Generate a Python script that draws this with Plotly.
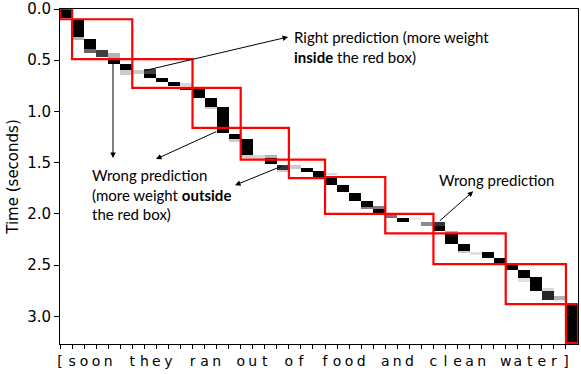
import numpy as np
import plotly.graph_objects as go

# ---- data ----
chars = list("[soon they ran out of food and clean water]")
t_max = 3.27
dt = 0.01

# attention cells: column index, start time, end time, weight
cell_col = [0, 1, 1, 2, 2, 3, 4, 4, 5, 5, 6, 7, 7, 8, 9, 10, 10, 11, 12, 12,
            13, 14, 14, 15, 15, 16, 17, 17, 18, 18, 19, 20, 21, 22, 22, 23, 24,
            25, 25, 26, 26, 27, 28, 29, 30, 31, 31, 32, 32, 33, 33, 34, 35, 36,
            37, 38, 38, 39, 40, 40, 41, 41, 42]
cell_t0 = [0.00, 0.11, 0.27, 0.29, 0.39, 0.40, 0.43, 0.49, 0.54, 0.60, 0.60, 0.59, 0.635, 0.67, 0.71, 0.72, 0.76, 0.78, 0.87, 0.96,
           0.96, 1.22, 1.27, 1.27, 1.43, 1.43, 1.43, 1.45, 1.52, 1.57, 1.52, 1.55, 1.58, 1.60, 1.65, 1.72, 1.80,
           1.87, 1.93, 1.92, 1.95, 1.99, 2.04, 2.03, 2.08, 2.08, 2.12, 2.17, 2.19, 2.29, 2.36, 2.37, 2.37, 2.43,
           2.49, 2.55, 2.63, 2.62, 2.72, 2.75, 2.80, 2.84, 2.88]
cell_t1 = [0.09, 0.27, 0.30, 0.39, 0.43, 0.47, 0.48, 0.54, 0.60, 0.64, 0.63, 0.635, 0.67, 0.71, 0.75, 0.75, 0.79, 0.87, 0.96, 0.98,
           1.21, 1.27, 1.30, 1.43, 1.45, 1.46, 1.45, 1.51, 1.57, 1.59, 1.56, 1.59, 1.64, 1.62, 1.72, 1.79, 1.87,
           1.93, 1.95, 1.95, 1.99, 2.04, 2.08, 2.06, 2.12, 2.12, 2.17, 2.19, 2.29, 2.36, 2.38, 2.40, 2.43, 2.49,
           2.55, 2.63, 2.66, 2.75, 2.75, 2.84, 2.84, 2.86, 3.26]
cell_w = [1.0, 1.0, 0.3, 1.0, 0.6, 0.75, 0.3, 1.0, 1.0, 0.2, 0.2, 0.75, 1.0, 1.0, 1.0, 0.15, 1.0, 1.0, 1.0, 0.2,
          1.0, 1.0, 0.2, 1.0, 0.2, 0.15, 0.3, 1.0, 0.8, 0.2, 0.2, 1.0, 1.0, 0.15, 1.0, 1.0, 1.0,
          1.0, 0.5, 0.5, 1.0, 0.55, 1.0, 0.08, 0.45, 0.8, 1.0, 0.3, 1.0, 1.0, 0.2, 0.12, 1.0, 1.0,
          1.0, 1.0, 0.12, 1.0, 0.15, 0.85, 0.3, 0.08, 1.0]

# word boxes: start column, end column, start time, end time
box_c0 = [0, 1, 6, 11, 15, 19, 22, 27, 31, 37, 42]
box_c1 = [1, 6, 11, 15, 19, 22, 27, 31, 37, 42, 43]
box_t0 = [0.00, 0.10, 0.49, 0.77, 1.16, 1.47, 1.64, 2.00, 2.19, 2.49, 2.88]
box_t1 = [0.10, 0.49, 0.77, 1.16, 1.47, 1.65, 2.00, 2.19, 2.49, 2.88, 3.26]

# ---- build matrix ----
n_t = int(round(t_max / dt))
t_centers = (np.arange(n_t) + 0.5) * dt
z = np.zeros((n_t, len(chars)))
for c, a, b, w in zip(cell_col, cell_t0, cell_t1, cell_w):
    mask = (t_centers >= a) & (t_centers < b)
    z[mask, c] = np.maximum(z[mask, c], w)
x_centers = np.arange(len(chars)) + 0.5

fig = go.Figure()
fig.add_trace(go.Heatmap(
    x=x_centers, y=t_centers, z=z, zmin=0, zmax=1,
    colorscale=[[0, "white"], [1, "black"]], showscale=False, hoverinfo="skip"))

for c0, c1, a, b in zip(box_c0, box_c1, box_t0, box_t1):
    fig.add_shape(type="rect", x0=c0, x1=c1, y0=a, y1=b, xref="x", yref="y",
                  line=dict(color="#ff0000", width=2.2), fillcolor="rgba(0,0,0,0)", layer="above")

# arrows: (head_x, head_y, tail_x, tail_y)
arrows = [
    (18.93, 0.273, 6.89, 0.605),
    (4.40, 1.455, 4.40, 0.52),
    (7.97, 1.465, 13.1, 1.19),
    (14.53, 1.72, 18.5, 1.53),
    (34.3, 1.78, 31.4, 2.08),
]
for hx, hy, tx, ty in arrows:
    fig.add_annotation(x=hx, y=hy, ax=tx, ay=ty, xref="x", yref="y", axref="x", ayref="y",
                       text="", showarrow=True, arrowhead=2, arrowsize=1.1, arrowwidth=1,
                       arrowcolor="black", standoff=0, startstandoff=0)

afont = dict(family="Lato, Open Sans, sans-serif", size=15, color="black")
fig.add_annotation(x=19.26, y=0.37, xref="x", yref="y", xanchor="left", yanchor="middle",
                   align="left", showarrow=False, font=afont,
                   text="Right prediction (more weight<br><b>inside</b> the red box)")
fig.add_annotation(x=2.49, y=1.81, xref="x", yref="y", xanchor="left", yanchor="middle",
                   align="left", showarrow=False, font=afont,
                   text="Wrong prediction<br>(more weight <b>outside</b><br>the red box)")
fig.add_annotation(x=31.3, y=1.67, xref="x", yref="y", xanchor="left", yanchor="middle",
                   align="left", showarrow=False, font=afont,
                   text="Wrong prediction")

fig.update_layout(
    width=581, height=374,
    margin=dict(l=60, r=3, t=9, b=30),
    paper_bgcolor="white", plot_bgcolor="white",
    showlegend=False,
    font=dict(family="DejaVu Sans", color="black"),
)
fig.update_xaxes(range=[0, len(chars)], tickmode="array", tickvals=list(range(len(chars))),
                 ticktext=chars, ticks="outside", ticklen=4, tickcolor="black", tickangle=0,
                 showline=True, linecolor="black", linewidth=1, mirror=True, automargin=False,
                 showgrid=False, zeroline=False, tickfont=dict(family="DejaVu Sans", size=14))
fig.update_yaxes(range=[t_max, 0], tickmode="array", tickvals=[0, 0.5, 1, 1.5, 2, 2.5, 3],
                 ticktext=["0.0", "0.5", "1.0", "1.5", "2.0", "2.5", "3.0"],
                 ticks="outside", ticklen=5, tickcolor="black", automargin=False,
                 showline=True, linecolor="black", linewidth=1, mirror=True,
                 showgrid=False, zeroline=False, tickfont=dict(family="DejaVu Sans", size=15),
                 title=dict(text="Time (seconds)", font=dict(family="DejaVu Sans", size=15), standoff=4))

fig.write_html("out.html", config={"displayModeBar": False},
               post_script="document.body.style.margin='0px';document.body.style.overflow='hidden';")
